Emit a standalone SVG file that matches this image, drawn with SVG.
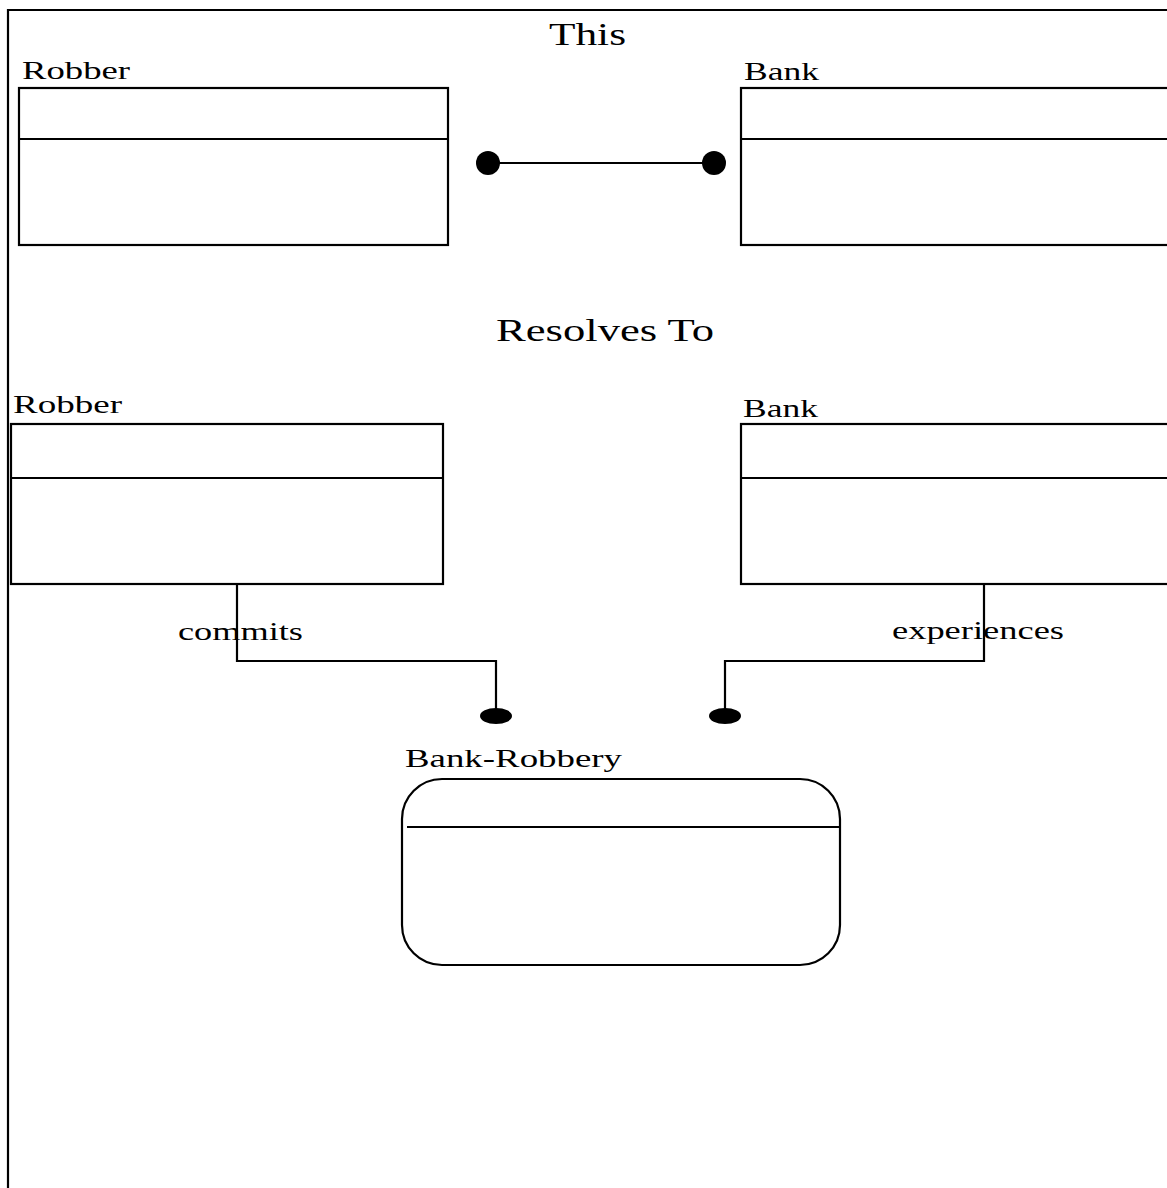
<svg xmlns="http://www.w3.org/2000/svg" width="1167" height="1188" viewBox="0 0 1167 1188">
  <style>
    .box { fill: #ffffff; stroke: #000000; stroke-width: 2.2; }
    .div { stroke: #000000; stroke-width: 2.2; fill: none; }
    .wire { stroke: #000000; stroke-width: 2.2; fill: none; }
    .end { fill: #000000; }
    .lbl { font-family: "Liberation Serif", "Times New Roman", serif; font-size: 26px; fill: #000000; }
    .ttl { font-family: "Liberation Serif", "Times New Roman", serif; font-size: 32px; fill: #000000; }
  </style>
  <rect width="1167" height="1188" fill="#ffffff"/>

  <!-- outer frame, running off the right and bottom edges -->
  <path d="M8 1200 V10 H1180" class="wire"/>

  <text class="ttl" x="549" y="45" textLength="77" lengthAdjust="spacingAndGlyphs">This</text>
  <text class="ttl" x="496" y="341" textLength="218" lengthAdjust="spacingAndGlyphs">Resolves To</text>

  <g id="robber-top">
    <text class="lbl" x="22" y="79" textLength="108" lengthAdjust="spacingAndGlyphs">Robber</text>
    <rect class="box" x="19" y="88" width="429" height="157"/>
    <line class="div" x1="19" y1="139" x2="448" y2="139"/>
  </g>

  <g id="bank-top">
    <text class="lbl" x="744" y="80" textLength="75" lengthAdjust="spacingAndGlyphs">Bank</text>
    <rect class="box" x="741" y="88" width="460" height="157"/>
    <line class="div" x1="741" y1="139" x2="1201" y2="139"/>
  </g>

  <g id="robber">
    <text class="lbl" x="13" y="413" textLength="109" lengthAdjust="spacingAndGlyphs">Robber</text>
    <rect class="box" x="11" y="424" width="432" height="160"/>
    <line class="div" x1="11" y1="478" x2="443" y2="478"/>
  </g>

  <g id="bank">
    <text class="lbl" x="743" y="417" textLength="75" lengthAdjust="spacingAndGlyphs">Bank</text>
    <rect class="box" x="741" y="424" width="460" height="160"/>
    <line class="div" x1="741" y1="478" x2="1201" y2="478"/>
  </g>

  <g id="bank-robbery">
    <text class="lbl" x="405" y="767" textLength="217" lengthAdjust="spacingAndGlyphs">Bank-Robbery</text>
    <rect class="box" x="402" y="779" width="438" height="186" rx="40" ry="40"/>
    <line class="div" x1="407" y1="827" x2="841" y2="827"/>
  </g>

  <g id="connectors">
    <!-- association between the two upper classes -->
    <line class="wire" x1="488" y1="163" x2="714" y2="163"/>
    <circle class="end" cx="488" cy="163" r="12"/>
    <circle class="end" cx="714" cy="163" r="12"/>

    <!-- commits: Robber to Bank-Robbery -->
    <path class="wire" d="M237 584 V661 H496 V714"/>
    <ellipse class="end" cx="496" cy="716" rx="16" ry="8"/>
    <text class="lbl" x="178" y="640" textLength="125" lengthAdjust="spacingAndGlyphs">commits</text>

    <!-- experiences: Bank to Bank-Robbery -->
    <path class="wire" d="M984 584 V661 H725 V714"/>
    <ellipse class="end" cx="725" cy="716" rx="16" ry="8"/>
    <text class="lbl" x="892" y="639" textLength="172" lengthAdjust="spacingAndGlyphs">experiences</text>
  </g>
</svg>
